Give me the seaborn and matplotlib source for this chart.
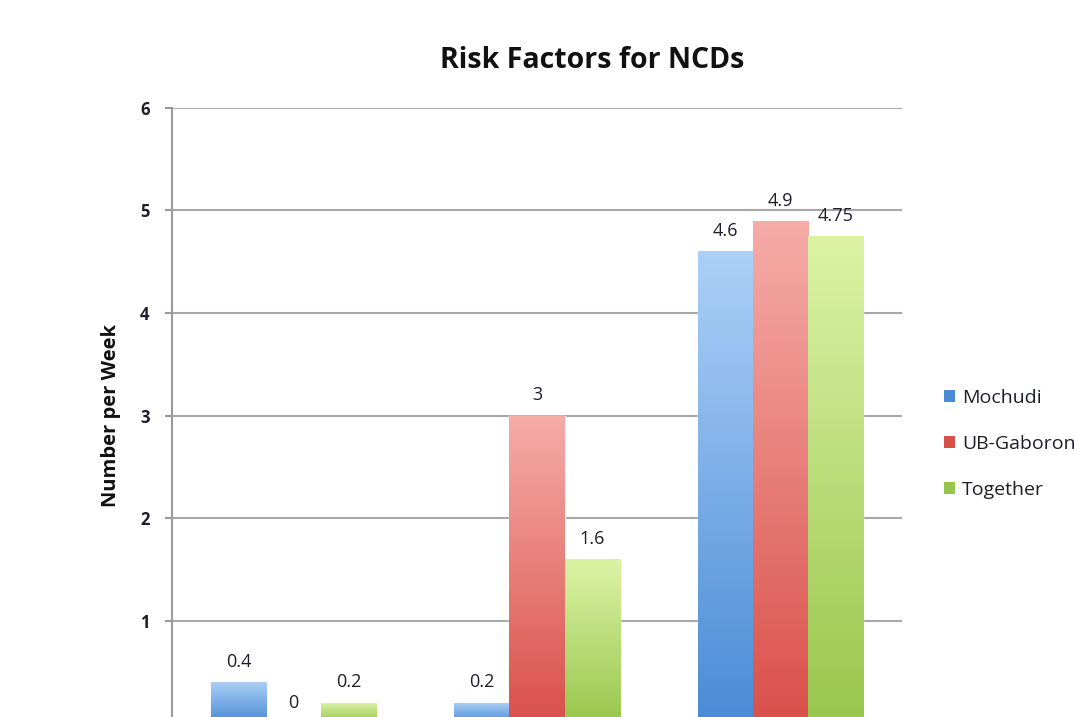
import numpy as np
import pandas as pd
import matplotlib
matplotlib.use("Agg")
import matplotlib.pyplot as plt
from matplotlib.colors import LinearSegmentedColormap
from matplotlib.patches import Patch
import seaborn as sns

# Data
categories = ["Tobacco Use", "Alcohol Use", "Physical Inactivity"]
groups = ["Mochudi", "UB-Gaborone", "Together"]
mochudi = [0.4, 0.2, 4.6]
ub_gaborone = [0, 3, 4.9]
together = [0.2, 1.6, 4.75]
value_labels = {
    "Mochudi": ["0.4", "0.2", "4.6"],
    "UB-Gaborone": ["0", "3", "4.9"],
    "Together": ["0.2", "1.6", "4.75"],
}

df = pd.DataFrame({
    "Risk factor": categories * 3,
    "Site": sum([[g] * len(categories) for g in groups], []),
    "Number per Week": mochudi + ub_gaborone + together,
})

# Gradient colours (top -> bottom) per series
shades = {
    "Mochudi": ("#acd0f7", "#4a8bd6"),
    "UB-Gaborone": ("#f6aca8", "#d9504a"),
    "Together": ("#dcf3a6", "#98c64c"),
}
flat = {g: shades[g][1] for g in groups}

sns.set_theme(style="white")
plt.rcParams["font.family"] = ["Open Sans", "DejaVu Sans"]

fig = plt.figure(figsize=(10.74, 7.17), dpi=100)
ax = fig.add_axes([0.160, -0.0084, 0.680, 0.8578])

sns.barplot(data=df, x="Risk factor", y="Number per Week", hue="Site",
            hue_order=groups, order=categories, palette=flat,
            width=0.68, saturation=1, legend=False, ax=ax, zorder=3)

ax.set_ylim(0, 6)
ax.set_xlim(-0.5, 2.5)

# Vertical gradient fill for every bar, clipped to its rectangle
grad = np.linspace(0, 1, 256).reshape(-1, 1)
for container, g in zip(ax.containers, groups):
    cmap = LinearSegmentedColormap.from_list(g, [shades[g][0], shades[g][1]])
    for bar in container:
        x0, y0 = bar.get_x(), bar.get_y()
        w, h = bar.get_width(), bar.get_height()
        if h <= 0:
            continue
        im = ax.imshow(grad, cmap=cmap, aspect="auto",
                       extent=(x0, x0 + w, y0, y0 + h), origin="upper",
                       zorder=4)
        im.set_clip_path(bar)
    ax.bar_label(container, labels=value_labels[g], padding=8,
                 fontsize=13, color="#1e1e2a", zorder=5)

ax.set_xlim(-0.5, 2.5)
ax.set_ylim(0, 6)

# Axis styling
ax.set_yticks([0, 1, 2, 3, 4, 5, 6])
ax.set_yticklabels(["0", "1", "2", "3", "4", "5", "6"], fontsize=12,
                   fontweight="bold", color="#1e1e2a")
ax.tick_params(axis="y", length=5, width=1.5, color="#9a9a9a", pad=11,
               direction="out", left=True)
ax.yaxis.grid(True, color="#a8a8a8", linewidth=1.5, zorder=0)
ax.set_axisbelow(True)
ax.set_xticks([])
ax.set_xlabel("")
ax.set_ylabel("Number per Week", fontsize=14.5, fontweight="bold",
              color="#111111", labelpad=14)
for side in ["top", "right", "bottom"]:
    ax.spines[side].set_visible(False)
ax.spines["left"].set_color("#9a9a9a")
ax.spines["left"].set_linewidth(1.5)

fig.text(0.551, 0.916, "Risk Factors for NCDs", ha="center", va="center",
         fontsize=20.5, fontweight="bold", color="#111111")

handles = [Patch(facecolor=shades[g][1], edgecolor="none", label=g) for g in groups]
fig.legend(handles=handles, loc="center left", bbox_to_anchor=(0.863, 0.381),
           frameon=False, fontsize=14, handlelength=0.55, handleheight=0.55,
           handletextpad=0.35, labelspacing=1.45, labelcolor="#1e1e2a")

fig.savefig("out.png", dpi=100)
